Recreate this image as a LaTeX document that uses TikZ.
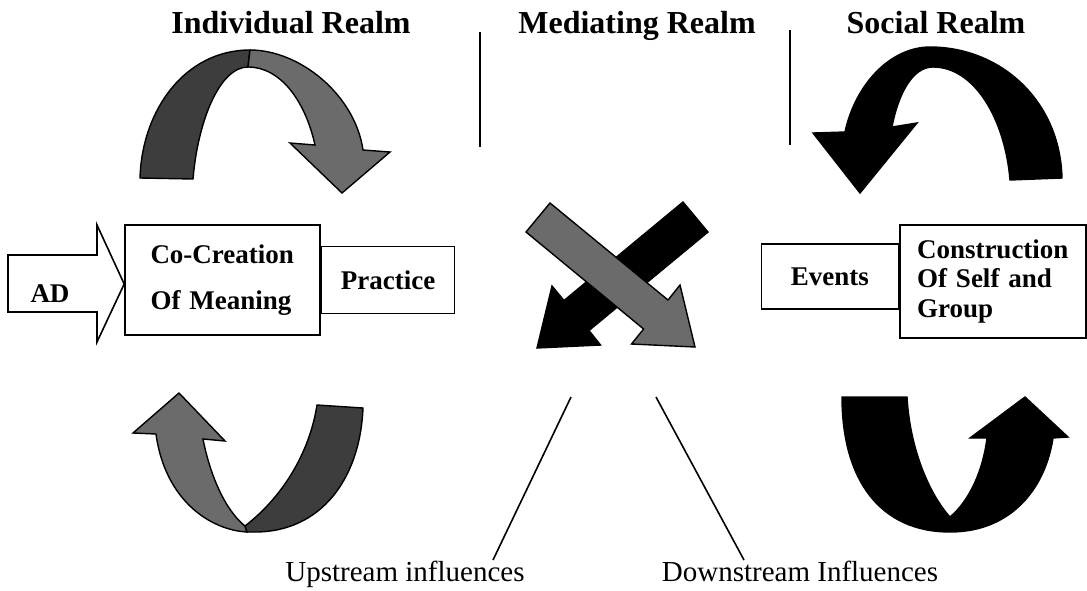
\documentclass[tikz,border=0pt]{standalone}
\usepackage{fontspec}
\setmainfont{Liberation Serif}
\usetikzlibrary{positioning}

\begin{document}
\begin{tikzpicture}[x=0.5pt, y=-0.5pt,
    title/.style={font=\fontsize{16}{19}\selectfont\bfseries, anchor=base},
    box/.style={draw, line width=0.8pt, fill=white, inner sep=0pt,
                font=\fontsize{13.5}{16}\selectfont\bfseries},
    infl/.style={font=\fontsize{14.5}{17}\selectfont, anchor=base},
    rule/.style={line width=0.8pt},
    dark/.style={draw, line width=0.7pt, fill=black!76},
    light/.style={draw, line width=0.7pt, fill=black!58},
    blk/.style={draw, line width=0.7pt, fill=black}]
    \useasboundingbox (0,0) rectangle (1087,590);

    % headings and separators
    \node[title] (indiv) at (291,33)  {Individual Realm};
    \node[title] (medi)  at (637,33)  {Mediating Realm};
    \node[title] (soc)   at (936,33)  {Social Realm};
    \coordinate (sepAt) at (480,32);  \coordinate (sepAb) at (480,147);
    \coordinate (sepBt) at (790,30);  \coordinate (sepBb) at (790,145);
    \draw[rule] (sepAt) -- (sepAb);
    \draw[rule] (sepBt) -- (sepBb);

    % individual realm
    \node[box, minimum width=97.5pt, minimum height=55pt, text width=72pt, align=left,
          font=\fontsize{13.5}{23}\selectfont\bfseries] (cocreation) at (222.5,280)
         {Co-Creation\\Of Meaning};
    \node[box, minimum width=66.5pt, minimum height=33.5pt, right=0pt of cocreation]
         (practice) {Practice};
    \coordinate (adtip) at ([yshift=-2pt]cocreation.west);
    \draw[line width=0.8pt, fill=white] (8,255) -- (97,255) -- (97,225) -- (adtip)
         -- (97,342) -- (97,312) -- (8,312) -- cycle;
    \node[font=\fontsize{13.5}{16}\selectfont\bfseries, anchor=base] (ad) at (50,302) {AD};

    \draw[dark] (140,178) .. controls (142,110) and (185,50) .. (250,50) -- (248,67)
         .. controls (220,67) and (198,120) .. (193,179) -- cycle;
    \draw[light] (250,50) .. controls (300,50) and (355,95) .. (363,150) -- (390,152)
         -- (342,193) -- (290,143) -- (315,145) .. controls (305,100) and (280,67) .. (248,67) -- cycle;
    \draw[light] (179,393) -- (225,441) -- (203,439) .. controls (210,475) and (225,510) .. (245,526)
         -- (247,532) .. controls (210,530) and (165,500) .. (156,434) -- (133,433) -- cycle;
    \draw[dark] (245,526) .. controls (285,495) and (310,450) .. (317,405) -- (363,408)
         .. controls (360,480) and (320,532) .. (255,532) -- (247,532) -- cycle;

    % mediating realm
    \draw[blk] (683,202) -- (564,300.5) -- (552,286) -- (537,348) -- (600.5,345)
         -- (589,330.5) -- (708,232) -- cycle;
    \draw[light] (550,203) -- (668,300) -- (680,285) -- (695,347) -- (631.5,344)
         -- (643.6,329) -- (526,232) -- cycle;

    % social realm
    \node[box, minimum width=93pt, minimum height=56.5pt, text width=76pt, align=left,
          font=\fontsize{13.5}{14.5}\selectfont\bfseries] (construction) at (993,281.5)
         {Construction\\Of Self and\\Group};
    \node[box, minimum width=68.5pt, minimum height=32.5pt, left=0pt of construction,
          yshift=2.5pt] (events) {Events};

    \draw[blk] (1062,178) .. controls (1060,100) and (1000,47) .. (930,47)
         .. controls (890,47) and (855,85) .. (845,132) -- (813,133) -- (860,193)
         -- (917,123) -- (892,127) .. controls (898,95) and (912,67) .. (933,67)
         .. controls (975,67) and (1005,120) .. (1010,180) -- cycle;
    \draw[blk] (842,397) .. controls (842,480) and (880,532) .. (950,532)
         .. controls (1010,532) and (1045,490) .. (1053,438) -- (1068,437) -- (1025,397)
         -- (970,438) -- (987,438) .. controls (983,470) and (970,500) .. (950,517)
         .. controls (930,495) and (910,450) .. (907,397) -- cycle;

    % influences
    \node[infl] (upstream)   at (405,581) {Upstream influences};
    \node[infl] (downstream) at (800,581) {Downstream Influences};
    \coordinate (upTop) at (571,397);   \coordinate (upEnd) at (493,560);
    \coordinate (downTop) at (656,397); \coordinate (downEnd) at (744,560);
    \draw[rule] (upTop) -- (upEnd);
    \draw[rule] (downTop) -- (downEnd);
\end{tikzpicture}
\end{document}
